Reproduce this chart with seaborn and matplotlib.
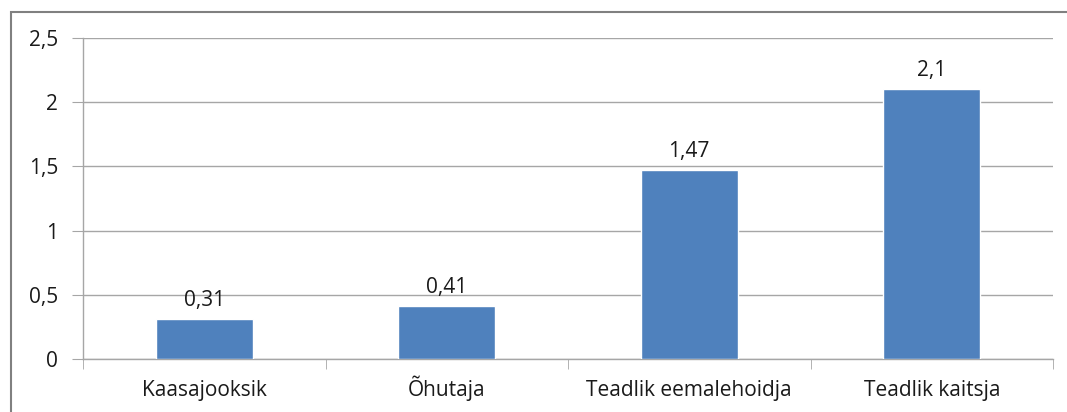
import matplotlib
matplotlib.use("Agg")
import matplotlib.pyplot as plt
import seaborn as sns
import pandas as pd
from matplotlib.patches import Rectangle
from matplotlib.ticker import FixedLocator, FuncFormatter

categories = ["Kaasajooksik", "Õhutaja", "Teadlik eemalehoidja", "Teadlik kaitsja"]
values = [0.31, 0.41, 1.47, 2.1]
value_labels = ["0,31", "0,41", "1,47", "2,1"]
y_ticks = [0, 0.5, 1, 1.5, 2, 2.5]

sns.set_style("white")
plt.rcParams['font.family'] = ['Open Sans', 'DejaVu Sans']

df = pd.DataFrame({"cat": categories, "val": values})

fig = plt.figure(figsize=(10.67, 4.12), dpi=100)
ax = fig.add_axes([83/1067, 1 - 359/412, (1053 - 83)/1067, (359 - 38)/412])

sns.barplot(data=df, x="cat", y="val", color="#4F81BD", width=0.4,
            saturation=1, ax=ax, zorder=3)

grid_c = "#A6A6A6"
fs = 15
ax.set_ylim(0, 2.5)
ax.set_xlim(-0.5, 3.5)
ax.set_yticks(y_ticks)
ax.yaxis.set_major_formatter(FuncFormatter(lambda v, p: ("%g" % v).replace(".", ",")))
ax.grid(axis="y", color=grid_c, linewidth=1, zorder=0)
ax.grid(axis="x", visible=False)
for s in ["top", "right"]:
    ax.spines[s].set_visible(False)
for s in ["left", "bottom"]:
    ax.spines[s].set_color(grid_c)
    ax.spines[s].set_linewidth(1)

ax.tick_params(axis="y", length=8, color=grid_c, labelsize=fs, pad=10, left=True, labelcolor="#1a1a1a")
ax.tick_params(axis="x", which="major", length=0, labelsize=fs, pad=26.5, labelcolor="#1a1a1a")
for lbl in ax.get_xticklabels():
    lbl.set_va("baseline")
ax.xaxis.set_minor_locator(FixedLocator([-0.5, 0.5, 1.5, 2.5, 3.5]))
ax.tick_params(axis="x", which="minor", length=7, color=grid_c, bottom=True)
ax.set_xlabel("")
ax.set_ylabel("")

ax.bar_label(ax.containers[0], labels=value_labels, padding=6, fontsize=fs, color="#1a1a1a")

fig.patches.append(Rectangle((11/1067, -0.1), 1.2, 1 - 12/412 + 0.1,
                             transform=fig.transFigure, fill=False,
                             edgecolor="#808080", linewidth=1.5, figure=fig))

fig.savefig("out.png", dpi=100)
